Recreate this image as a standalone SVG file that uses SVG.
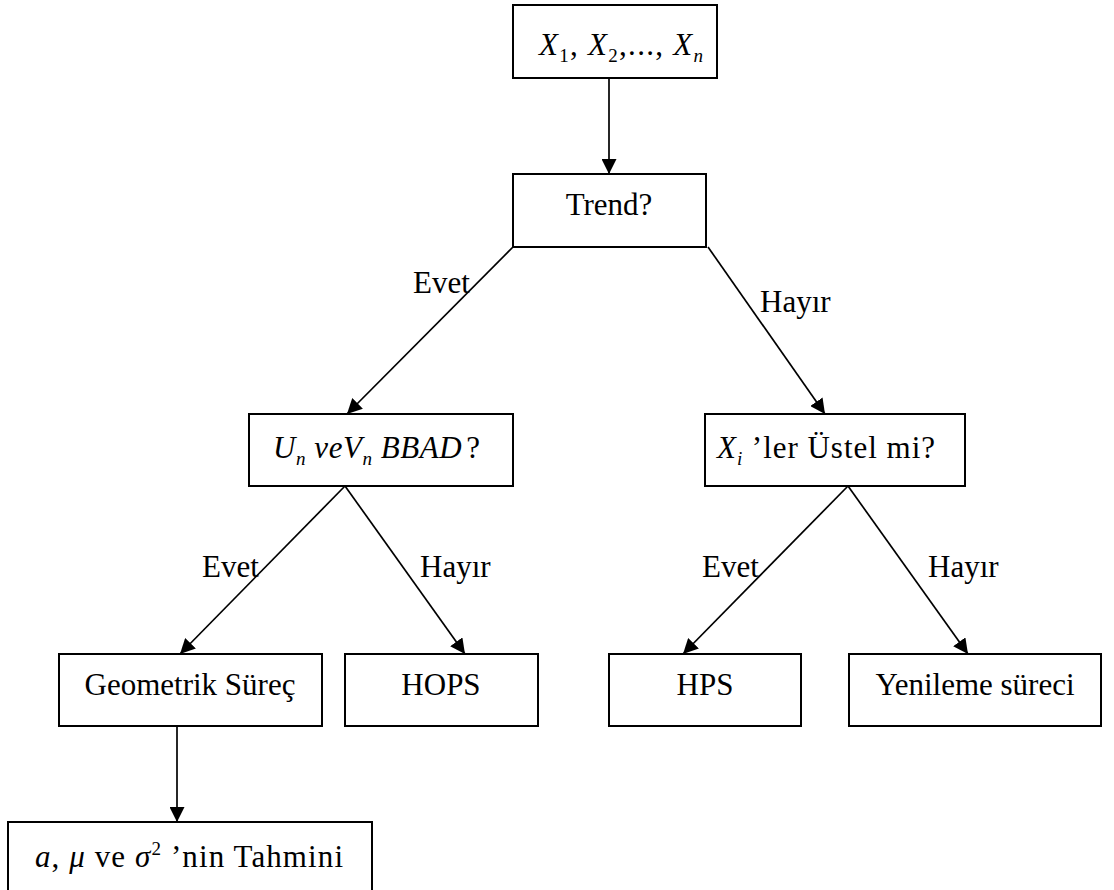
<svg xmlns="http://www.w3.org/2000/svg" width="1114" height="890" viewBox="0 0 1114 890">
<defs>
<marker id="arr" markerUnits="userSpaceOnUse" markerWidth="15" markerHeight="15" refX="15" refY="7.5" orient="auto">
<path d="M0,0 L15,7.5 L0,15 z" fill="#000"/>
</marker>
<style>
.box{fill:#fff;stroke:#000;stroke-width:2}
.t{font-family:"Liberation Serif","Times New Roman",serif;font-size:31px;fill:#000}
.c{text-anchor:middle}
.i{font-style:italic}
.s{font-size:19px}
.ln{stroke:#000;stroke-width:1.7;fill:none;marker-end:url(#arr)}
</style>
</defs>
<rect width="1114" height="890" fill="#fff"/>
<g id="connectors">
<line class="ln" x1="609" y1="78" x2="609" y2="174"/>
<line class="ln" x1="513" y1="247" x2="347" y2="414"/>
<line class="ln" x1="708" y1="247" x2="825" y2="414"/>
<line class="ln" x1="345" y1="486" x2="180" y2="654"/>
<line class="ln" x1="345" y1="486" x2="465" y2="654"/>
<line class="ln" x1="848" y1="486" x2="683" y2="654"/>
<line class="ln" x1="848" y1="486" x2="968" y2="654"/>
<line class="ln" x1="177" y1="726" x2="177" y2="822"/>
<text class="t" x="413" y="293">Evet</text>
<text class="t" x="760" y="312">Hayır</text>
<text class="t" x="202" y="577">Evet</text>
<text class="t" x="420" y="577">Hayır</text>
<text class="t" x="702" y="577">Evet</text>
<text class="t" x="928" y="577">Hayır</text>
</g>
<g id="n-start">
<rect class="box" x="513" y="5" width="204" height="73"/>
<text class="t" x="539" y="55" textLength="164" lengthAdjust="spacing"><tspan class="i">X</tspan><tspan class="s" dy="7">1</tspan><tspan dy="-7">, </tspan><tspan class="i">X</tspan><tspan class="s" dy="7">2</tspan><tspan dy="-7">,..., </tspan><tspan class="i">X</tspan><tspan class="s i" dy="7">n</tspan></text>
</g>
<g id="n-trend">
<rect class="box" x="513" y="174" width="193" height="73"/>
<text class="t c" x="609" y="215">Trend?</text>
</g>
<g id="n-unvn">
<rect class="box" x="249" y="414" width="264" height="72"/>
<text class="t" x="273" y="458" textLength="207" lengthAdjust="spacing"><tspan class="i">U</tspan><tspan class="s i" dy="7">n</tspan><tspan class="i" dy="-7"> veV</tspan><tspan class="s i" dy="7">n</tspan><tspan class="i" dy="-7"> BBAD</tspan><tspan dx="4">?</tspan></text>
</g>
<g id="n-xi">
<rect class="box" x="705" y="414" width="260" height="72"/>
<text class="t" x="717" y="458" textLength="218" lengthAdjust="spacing"><tspan class="i">X</tspan><tspan class="s i" dy="7">i</tspan><tspan dy="-7"> ’ler Üstel mi?</tspan></text>
</g>
<g id="n-geo">
<rect class="box" x="59" y="654" width="263" height="72"/>
<text class="t c" x="190" y="695">Geometrik Süreç</text>
</g>
<g id="n-hops">
<rect class="box" x="345" y="654" width="193" height="72"/>
<text class="t c" x="441" y="695">HOPS</text>
</g>
<g id="n-hps">
<rect class="box" x="609" y="654" width="192" height="72"/>
<text class="t c" x="705" y="695">HPS</text>
</g>
<g id="n-yen">
<rect class="box" x="849" y="654" width="252" height="72"/>
<text class="t c" x="975" y="695">Yenileme süreci</text>
</g>
<g id="n-est">
<rect class="box" x="8" y="822" width="364" height="76"/>
<text class="t" x="35" y="867" textLength="308" lengthAdjust="spacing"><tspan class="i">a</tspan>, <tspan class="i">μ</tspan> ve <tspan class="i">σ</tspan><tspan class="s" dy="-12">2</tspan><tspan dy="12"> ’nin Tahmini</tspan></text>
</g>
</svg>
